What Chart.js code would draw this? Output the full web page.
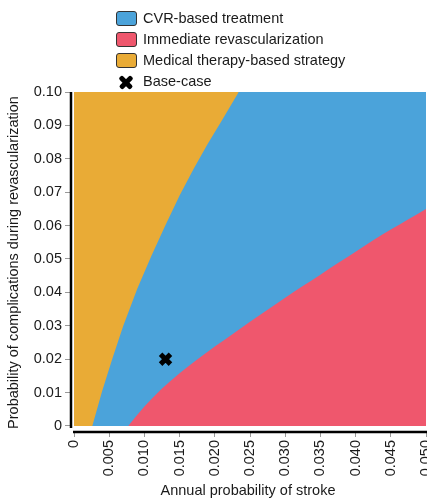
<!DOCTYPE html>
<html>
<head>
<meta charset="utf-8">
<script src="https://cdn.jsdelivr.net/npm/chart.js@4.4.1/dist/chart.umd.min.js"></script>
<style>
  html, body { margin: 0; padding: 0; background: #fff; }
  #wrap { position: relative; width: 427px; height: 504px; font-family: "Liberation Sans", Arial, sans-serif; }
  #chart { position: absolute; left: 0; top: 0; }
  .legend { position: absolute; left: 116px; top: 8px; color: #1a1a1a; font-size: 14.5px; }
  .item { position: relative; height: 21px; line-height: 21px; padding-left: 27px; white-space: nowrap; }
  .swatch { position: absolute; left: 0; top: 3px; width: 19px; height: 13px; border: 1.5px solid #333; border-radius: 3px; }
  .xmark { position: absolute; left: 2px; top: 4px; width: 16px; height: 14px; }
  .xmark::before, .xmark::after { content: ""; position: absolute; left: 0; top: 5px; width: 16px; height: 4.5px; background: #000; border-radius: 2px; }
  .xmark::before { transform: rotate(45deg); }
  .xmark::after { transform: rotate(-45deg); }
</style>
</head>
<body>
<div id="wrap">
  <canvas id="chart" width="427" height="504"></canvas>
  <div class="legend" id="legend"></div>
</div>
<script>
// Decision regions: annual stroke probability (x) vs. complication probability (y)
const regionNames = ['CVR-based treatment', 'Immediate revascularization', 'Medical therapy-based strategy'];
const regionColors = ['#4ba3da', '#ef576d', '#e9ab36'];
const baseCaseLabel = 'Base-case';

// Boundary between medical therapy (upper left) and CVR-based treatment
const medicalBoundaryX = [0, 0.0026, 0.0040, 0.0055, 0.0070, 0.0090, 0.0110, 0.0130, 0.0150, 0.0170, 0.0190, 0.0210, 0.0234];
const medicalBoundaryY = [0, 0, 0.0105, 0.0205, 0.0300, 0.0412, 0.0510, 0.0602, 0.0690, 0.0770, 0.0845, 0.0915, 0.1000];

// Boundary between CVR-based treatment and immediate revascularization (lower right)
const revascBoundaryX = [0.0077, 0.0100, 0.0125, 0.0150, 0.0175, 0.0200, 0.0225, 0.0250, 0.0275, 0.0300,
                         0.0325, 0.0350, 0.0375, 0.0400, 0.0425, 0.0450, 0.0475, 0.0500];
const revascBoundaryY = [0, 0.0058, 0.0112, 0.0158, 0.0199, 0.0238, 0.0275, 0.0312, 0.0348, 0.0384,
                         0.0419, 0.0453, 0.0488, 0.0522, 0.0556, 0.0588, 0.0619, 0.0650];

// Full extent of the analysed ranges
const strokeRange = [0, 0.05];
const complicationRange = [0, 0.10];

// Base-case estimate
const baseCase = [0.013, 0.020];

// Axis ticks
const xTickValues = [0, 0.005, 0.010, 0.015, 0.020, 0.025, 0.030, 0.035, 0.040, 0.045, 0.050];
const xTickLabels = ['0', '0.005', '0.010', '0.015', '0.020', '0.025', '0.030', '0.035', '0.040', '0.045', '0.050'];
const yTickValues = [0, 0.01, 0.02, 0.03, 0.04, 0.05, 0.06, 0.07, 0.08, 0.09, 0.10];
const yTickLabels = ['0', '0.01', '0.02', '0.03', '0.04', '0.05', '0.06', '0.07', '0.08', '0.09', '0.10'];

const pts = (xs, ys) => xs.map((x, i) => ({ x: x, y: ys[i] }));

// Legend
const legend = document.getElementById('legend');
regionNames.forEach((name, i) => {
  const row = document.createElement('div');
  row.className = 'item';
  const sw = document.createElement('span');
  sw.className = 'swatch';
  sw.style.background = regionColors[i];
  row.appendChild(sw);
  row.appendChild(document.createTextNode(name));
  legend.appendChild(row);
});
{
  const row = document.createElement('div');
  row.className = 'item';
  const mk = document.createElement('span');
  mk.className = 'xmark';
  row.appendChild(mk);
  row.appendChild(document.createTextNode(baseCaseLabel));
  legend.appendChild(row);
}

// Axis lines offset from the plotted region
const offsetAxes = {
  id: 'offsetAxes',
  afterDraw(chart) {
    const { ctx, scales: { x, y } } = chart;
    ctx.save();
    ctx.strokeStyle = '#000';
    ctx.lineWidth = 2.5;
    ctx.lineCap = 'butt';
    ctx.beginPath();
    ctx.moveTo(x.left + 1, y.getPixelForValue(complicationRange[1]));
    ctx.lineTo(x.left + 1, y.getPixelForValue(complicationRange[0]) + 2);
    ctx.stroke();
    ctx.beginPath();
    ctx.moveTo(x.getPixelForValue(strokeRange[0]) - 1, y.bottom - 1);
    ctx.lineTo(x.getPixelForValue(strokeRange[1]) + 1, y.bottom - 1);
    ctx.stroke();
    ctx.restore();
  }
};

const noPadding = () => ({ left: 0, top: 0, right: 0, bottom: 0 });
const font = { family: '"Liberation Sans", Arial, sans-serif', size: 14.5 };

new Chart(document.getElementById('chart'), {
  data: {
    datasets: [
      {
        type: 'scatter',
        data: [{ x: baseCase[0], y: baseCase[1] }],
        pointStyle: 'crossRot',
        pointRadius: 7,
        borderColor: '#000',
        backgroundColor: '#000',
        borderWidth: 5,
        order: 0
      },
      {
        type: 'line',
        data: pts(revascBoundaryX, revascBoundaryY),
        fill: 'origin',
        backgroundColor: regionColors[1],
        borderWidth: 0,
        pointRadius: 0,
        cubicInterpolationMode: 'monotone',
        order: 1
      },
      {
        type: 'line',
        data: pts(medicalBoundaryX, medicalBoundaryY),
        fill: 'end',
        backgroundColor: regionColors[2],
        borderWidth: 0,
        pointRadius: 0,
        tension: 0,
        order: 2
      },
      {
        type: 'line',
        data: [{ x: strokeRange[0], y: complicationRange[1] }, { x: strokeRange[1], y: complicationRange[1] }],
        fill: 'origin',
        backgroundColor: regionColors[0],
        borderWidth: 0,
        pointRadius: 0,
        order: 3
      }
    ]
  },
  options: {
    responsive: false,
    devicePixelRatio: 1,
    animation: false,
    events: [],
    layout: { autoPadding: false, padding: { left: 0, right: 1, top: 92, bottom: 0 } },
    plugins: { legend: { display: false }, tooltip: { enabled: false } },
    scales: {
      x: {
        type: 'linear',
        min: -0.00057,
        max: 0.05,
        afterBuildTicks: s => { s.ticks = xTickValues.map(v => ({ value: v })); },
        afterFit: s => {
          s.height = 71;
          s.paddingLeft = 0; s.paddingRight = 0;
          s.getPadding = noPadding;
        },
        ticks: {
          callback: (v, i) => xTickLabels[i],
          minRotation: 90,
          maxRotation: 90,
          padding: 3,
          color: '#1a1a1a',
          font: font,
          autoSkip: false
        },
        grid: { drawOnChartArea: false, drawTicks: true, tickLength: 4, tickColor: '#999', lineWidth: 1 },
        border: { display: false },
        title: { display: true, text: 'Annual probability of stroke', color: '#1a1a1a', font: font, padding: { top: 0, bottom: 4 } }
      },
      y: {
        type: 'linear',
        min: -0.0021,
        max: 0.10,
        afterBuildTicks: s => { s.ticks = yTickValues.map(v => ({ value: v })); },
        afterFit: s => {
          s.width = 70;
          s.paddingTop = 0; s.paddingBottom = 0;
          s.getPadding = noPadding;
        },
        ticks: {
          callback: (v, i) => yTickLabels[i],
          padding: 3,
          color: '#1a1a1a',
          font: font,
          autoSkip: false
        },
        grid: { drawOnChartArea: false, drawTicks: true, tickLength: 5, tickColor: '#999', lineWidth: 1 },
        border: { display: false },
        title: { display: true, text: 'Probability of complications during revascularization', color: '#1a1a1a', font: font, padding: { top: 5, bottom: 0 } }
      }
    }
  },
  plugins: [offsetAxes]
});
</script>
</body>
</html>
